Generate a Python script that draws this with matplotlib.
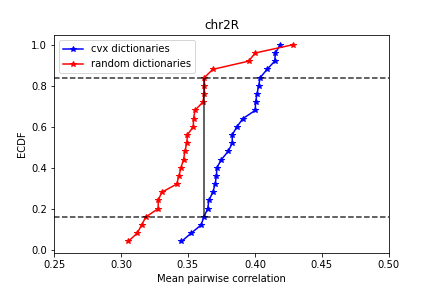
import matplotlib
matplotlib.use("Agg")
import matplotlib.pyplot as plt
import numpy as np

ecdf = [0.04, 0.08, 0.12, 0.16, 0.20, 0.24, 0.28, 0.32, 0.36, 0.40, 0.44, 0.48, 0.52,
        0.56, 0.60, 0.64, 0.68, 0.72, 0.76, 0.80, 0.84, 0.88, 0.92, 0.96, 1.00]
cvx = [0.3452, 0.3523, 0.3598, 0.3619, 0.3648, 0.3656, 0.3686, 0.3703, 0.3713, 0.3716,
       0.3750, 0.3801, 0.3831, 0.3831, 0.3866, 0.3911, 0.4003, 0.4005, 0.4016, 0.4028,
       0.4040, 0.4091, 0.4148, 0.4153, 0.4190]
rnd = [0.3053, 0.3121, 0.3154, 0.3186, 0.3278, 0.3278, 0.3304, 0.3416, 0.3433, 0.3448,
       0.3467, 0.3478, 0.3491, 0.3496, 0.3540, 0.3542, 0.3553, 0.3611, 0.3623, 0.3623,
       0.3623, 0.3686, 0.3953, 0.4003, 0.4283]
lo_q, hi_q = 0.16, 0.84
vline_x = rnd[20]

fig = plt.figure(figsize=(6, 4), dpi=72)
ax = fig.add_subplot(111)
fig.subplots_adjust(left=0.125, right=0.9, top=0.878, bottom=0.121)
ax.plot(cvx, ecdf, 'b*-', label='cvx dictionaries')
ax.plot(rnd, ecdf, 'r*-', label='random dictionaries')
ax.axhline(lo_q, color='k', ls='--', alpha=0.8)
ax.axhline(hi_q, color='k', ls='--', alpha=0.8)
ax.vlines(vline_x, lo_q, hi_q, color='k', alpha=0.8)
ax.set_xlim(0.25, 0.5)
ax.set_ylim(-0.017, 1.047)
ax.set_title('chr2R')
ax.set_xlabel('Mean pairwise correlation')
ax.set_ylabel('ECDF')
ax.legend(loc='upper left')
fig.savefig('out.png', dpi=72)
